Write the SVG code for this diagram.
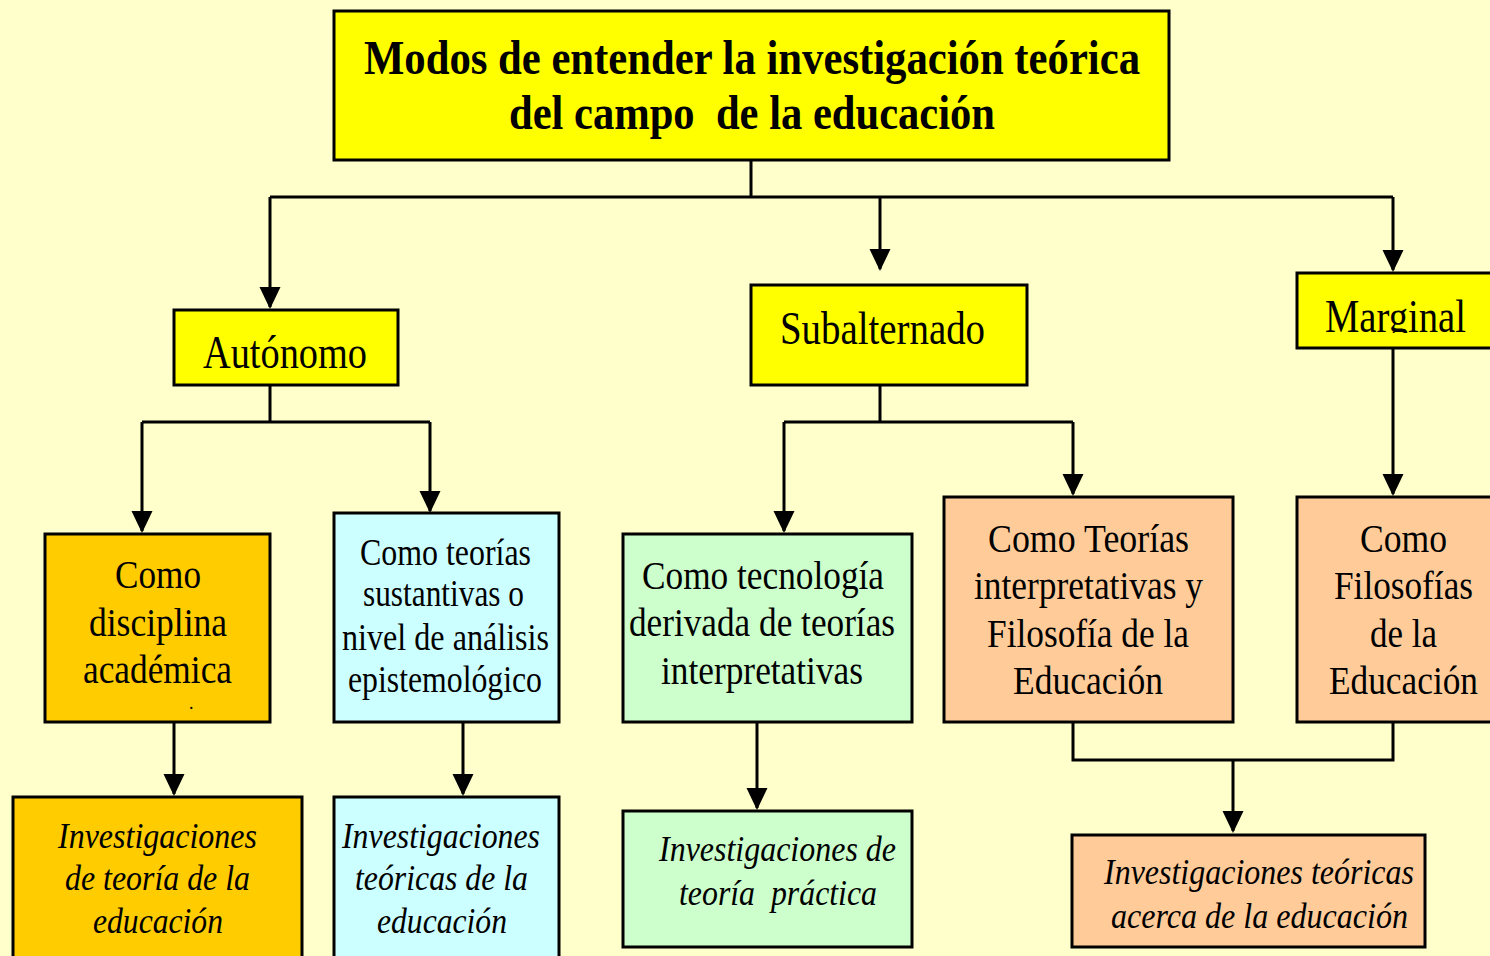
<svg xmlns="http://www.w3.org/2000/svg" width="1490" height="956" viewBox="0 0 1490 956">
<style>
.bx{stroke:#000;stroke-width:3}
.y{fill:#FFFF00}.g{fill:#FFCC00}.c{fill:#CCFFFF}.gr{fill:#CCFFCC}.p{fill:#FFCC99}
text{font-family:"Liberation Serif","Times New Roman",serif;fill:#000}
.t{font-size:48px;font-weight:bold}
.m{font-size:46px}
.n{font-size:40px}
.s{font-size:37px}
.i{font-size:36px;font-style:italic}
.ln{fill:none;stroke:#000;stroke-width:3}
.ar{marker-end:url(#ah)}
</style>
<defs>
<marker id="ah" markerUnits="userSpaceOnUse" markerWidth="22" markerHeight="22" refX="20" refY="10.5" orient="auto" viewBox="0 0 22 21">
<path d="M0,0 L22,10.5 L0,21 z" fill="#000"/>
</marker>
<clipPath id="clipM"><rect x="1297" y="272" width="193" height="61"/></clipPath>
</defs>
<rect width="1490" height="956" fill="#FFFFCC"/>

<g id="connectors">
<path class="ln" d="M751,160 V197" stroke-width="2"/>
<path class="ln" d="M270,197 H1393"/>
<path class="ln ar" d="M270,197 V307"/>
<path class="ln ar" d="M880,197 V269"/>
<path class="ln ar" d="M1393,197 V270"/>
<path class="ln" d="M270,385 V422 M142,422 H430"/>
<path class="ln ar" d="M142,422 V531"/>
<path class="ln ar" d="M430,422 V511"/>
<path class="ln" d="M880,385 V422 M784,422 H1073"/>
<path class="ln ar" d="M784,422 V531"/>
<path class="ln ar" d="M1073,422 V494"/>
<path class="ln ar" d="M1393,348 V494"/>
<path class="ln ar" d="M174,722 V794"/>
<path class="ln ar" d="M463,722 V794"/>
<path class="ln ar" d="M757,722 V808"/>
<path class="ln" d="M1073,722 V760 H1393 V722"/>
<path class="ln ar" d="M1233,760 V831"/>
</g>

<g id="title">
<rect class="bx y" x="334" y="11" width="835" height="149"/>
<text class="t" x="364" y="74" textLength="776" lengthAdjust="spacingAndGlyphs">Modos de entender la investigación teórica</text>
<text class="t" x="509" y="129" textLength="486" lengthAdjust="spacingAndGlyphs" xml:space="preserve">del campo  de la educación</text>
</g>

<g id="autonomo">
<rect class="bx y" x="174" y="310" width="224" height="75"/>
<text class="m" x="203" y="368" textLength="164" lengthAdjust="spacingAndGlyphs">Autónomo</text>
</g>

<g id="subalternado">
<rect class="bx y" x="751" y="285" width="276" height="100"/>
<text class="m" x="780" y="344" textLength="205" lengthAdjust="spacingAndGlyphs">Subalternado</text>
</g>

<g id="marginal">
<rect class="bx y" x="1297" y="273" width="196" height="75"/>
<text class="m" x="1325" y="332" textLength="141" lengthAdjust="spacingAndGlyphs" clip-path="url(#clipM)">Marginal</text>
</g>

<g id="disciplina">
<rect class="bx g" x="45" y="534" width="225" height="188"/>
<text class="n" x="115" y="588" textLength="86" lengthAdjust="spacingAndGlyphs">Como</text>
<text class="n" x="89" y="636" textLength="138" lengthAdjust="spacingAndGlyphs">disciplina</text>
<text class="n" x="83" y="683" textLength="149" lengthAdjust="spacingAndGlyphs">académica</text>
<text x="189" y="709" font-size="18">.</text>
</g>

<g id="inv-teoria-educacion">
<rect class="bx g" x="13" y="797" width="289" height="175"/>
<text class="i" x="58" y="848" textLength="199" lengthAdjust="spacingAndGlyphs">Investigaciones</text>
<text class="i" x="65" y="890" textLength="185" lengthAdjust="spacingAndGlyphs">de teoría de la</text>
<text class="i" x="93" y="933" textLength="130" lengthAdjust="spacingAndGlyphs">educación</text>
</g>

<g id="sustantivas">
<rect class="bx c" x="334" y="513" width="225" height="209"/>
<text class="s" x="360" y="565" textLength="171" lengthAdjust="spacingAndGlyphs">Como teorías</text>
<text class="s" x="363" y="606" textLength="161" lengthAdjust="spacingAndGlyphs">sustantivas o</text>
<text class="s" x="342" y="650" textLength="207" lengthAdjust="spacingAndGlyphs">nivel de análisis</text>
<text class="s" x="348" y="692" textLength="194" lengthAdjust="spacingAndGlyphs">epistemológico</text>
</g>

<g id="inv-teoricas-educacion">
<rect class="bx c" x="334" y="797" width="225" height="175"/>
<text class="i" x="342" y="848" textLength="198" lengthAdjust="spacingAndGlyphs">Investigaciones</text>
<text class="i" x="355" y="890" textLength="173" lengthAdjust="spacingAndGlyphs">teóricas de la</text>
<text class="i" x="377" y="933" textLength="130" lengthAdjust="spacingAndGlyphs">educación</text>
</g>

<g id="tecnologia">
<rect class="bx gr" x="623" y="534" width="289" height="188"/>
<text class="n" x="642" y="589" textLength="242" lengthAdjust="spacingAndGlyphs">Como tecnología</text>
<text class="n" x="629" y="636" textLength="266" lengthAdjust="spacingAndGlyphs">derivada de teorías</text>
<text class="n" x="661" y="684" textLength="202" lengthAdjust="spacingAndGlyphs">interpretativas</text>
</g>

<g id="inv-teoria-practica">
<rect class="bx gr" x="623" y="811" width="289" height="136"/>
<text class="i" x="659" y="861" textLength="237" lengthAdjust="spacingAndGlyphs">Investigaciones de</text>
<text class="i" x="679" y="905" textLength="198" lengthAdjust="spacingAndGlyphs" xml:space="preserve">teoría  práctica</text>
</g>

<g id="teorias-interpretativas">
<rect class="bx p" x="944" y="497" width="289" height="225"/>
<text class="n" x="988" y="552" textLength="201" lengthAdjust="spacingAndGlyphs">Como Teorías</text>
<text class="n" x="974" y="599" textLength="229" lengthAdjust="spacingAndGlyphs">interpretativas y</text>
<text class="n" x="987" y="647" textLength="202" lengthAdjust="spacingAndGlyphs">Filosofía de la</text>
<text class="n" x="1013" y="694" textLength="150" lengthAdjust="spacingAndGlyphs">Educación</text>
</g>

<g id="filosofias">
<rect class="bx p" x="1297" y="497" width="196" height="225"/>
<text class="n" x="1360" y="552" textLength="87" lengthAdjust="spacingAndGlyphs">Como</text>
<text class="n" x="1334" y="599" textLength="139" lengthAdjust="spacingAndGlyphs">Filosofías</text>
<text class="n" x="1370" y="647" textLength="67" lengthAdjust="spacingAndGlyphs">de la</text>
<text class="n" x="1329" y="694" textLength="149" lengthAdjust="spacingAndGlyphs">Educación</text>
</g>

<g id="inv-acerca-educacion">
<rect class="bx p" x="1072" y="835" width="353" height="112"/>
<text class="i" x="1104" y="884" textLength="310" lengthAdjust="spacingAndGlyphs">Investigaciones teóricas</text>
<text class="i" x="1111" y="928" textLength="297" lengthAdjust="spacingAndGlyphs">acerca de la educación</text>
</g>
</svg>
